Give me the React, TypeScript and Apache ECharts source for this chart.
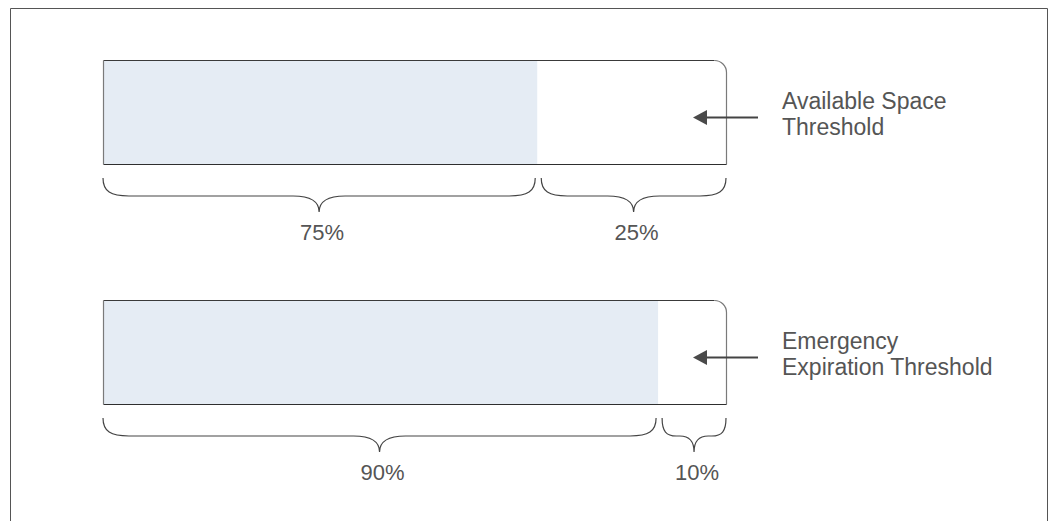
import React, { useEffect, useRef } from "react";
import * as echarts from "echarts";

// ---- data ----
const rowNames = ["Available Space Threshold", "Emergency Expiration Threshold"];
const usedValues = [69.7, 89.1]; // filled share of each bar (x scale 0..100)
const usedLabels = ["75%", "90%"];
const freeLabels = ["25%", "10%"];
const annotationLines = [
  ["Available Space", "Threshold"],
  ["Emergency", "Expiration Threshold"],
];

const FONT = "Liberation Sans, Arial, Helvetica, sans-serif";
const TEXT_COLOR = "#555555";
const FILL_COLOR = "#e5ecf4";

export default function App() {
  const ref = useRef<HTMLDivElement>(null);

  useEffect(() => {
    document.body.style.margin = "0";
    if (!ref.current) return;
    const chart = echarts.init(ref.current, null, { renderer: "svg" });

    const barData = rowNames.map((_, i) => [i, usedValues[i]]);
    const braceData: number[][] = [];
    rowNames.forEach((_, i) => {
      braceData.push([i, 0, usedValues[i], 0]);
      braceData.push([i, usedValues[i], 100, 1]);
    });
    const noteData = rowNames.map((_, i) => [i, 100]);

    const BAR_H = 104;

    const option: any = {
      animation: false,
      grid: { left: 103, right: 323, top: 112, bottom: 169 },
      xAxis: { type: "value", min: 0, max: 100, show: false },
      yAxis: { type: "value", min: 0, max: 1, inverse: true, show: false },
      graphic: [
        {
          type: "rect",
          shape: { x: 10.5, y: 8.5, width: 1037, height: 540 },
          style: { fill: "none", stroke: "#555", lineWidth: 1 },
          silent: true,
        },
      ],
      series: [
        {
          type: "custom",
          name: "bars",
          encode: { x: 1, y: 0 },
          data: barData,
          renderItem: (params: any, api: any) => {
            const row = api.value(0);
            const used = api.value(1);
            const p0 = api.coord([0, row]);
            const p1 = api.coord([100, row]);
            const pf = api.coord([used, row]);
            const x0 = Math.round(p0[0]) + 0.5;
            const x1 = Math.round(p1[0]) + 0.5;
            const yT = Math.round(p0[1] - BAR_H / 2) + 0.5;
            const yB = Math.round(p0[1] + BAR_H / 2) + 0.5;
            const r = 12;
            const k = 0.55 * r;
            return {
              type: "group",
              children: [
                {
                  type: "rect",
                  shape: { x: x0, y: yT, width: pf[0] - x0, height: yB - yT },
                  style: { fill: FILL_COLOR },
                },
                {
                  type: "path",
                  shape: { pathData: `M${x0} ${yT} L${x1 - r} ${yT}` },
                  style: { fill: "none", stroke: "#3a3a3a", lineWidth: 1.2 },
                },
                {
                  type: "path",
                  shape: {
                    pathData: `M${x1 - r} ${yT} C${x1 - r + k} ${yT} ${x1} ${yT + r - k} ${x1} ${yT + r} L${x1} ${yB}`,
                  },
                  style: { fill: "none", stroke: "#7a7a7a", lineWidth: 1.2 },
                },
                {
                  type: "path",
                  shape: { pathData: `M${x0} ${yB} L${x1} ${yB}` },
                  style: { fill: "none", stroke: "#2e2e2e", lineWidth: 1.2 },
                },
                {
                  type: "path",
                  shape: { pathData: `M${x0} ${yT} L${x0} ${yB}` },
                  style: { fill: "none", stroke: "#7a7a7a", lineWidth: 1.2 },
                },
              ],
            };
          },
        },
        {
          type: "custom",
          name: "braces",
          encode: { x: [1, 2], y: 0 },
          data: braceData,
          renderItem: (params: any, api: any) => {
            const row = api.value(0);
            const start = api.value(1);
            const end = api.value(2);
            const kind = api.value(3);
            const pa = api.coord([start, row]);
            const pb = api.coord([end, row]);
            let xa = pa[0];
            let xb = pb[0];
            if (start > 0) xa += 4;
            if (end < 100) xb -= 2;
            const y0 = pa[1] + 66;
            const m = 18;
            const h = 34;
            const xm = (xa + xb) / 2;
            const r = Math.min(26, (xb - xa) / 4.5);
            const ym = y0 + m;
            const yt = y0 + h;
            const d =
              `M${xa} ${y0} C${xa} ${y0 + m * 0.75} ${xa + r * 0.3} ${ym} ${xa + r} ${ym}` +
              ` L${xm - r} ${ym}` +
              ` C${xm - r * 0.35} ${ym} ${xm} ${ym + (h - m) * 0.3} ${xm} ${yt}` +
              ` C${xm} ${ym + (h - m) * 0.3} ${xm + r * 0.35} ${ym} ${xm + r} ${ym}` +
              ` L${xb - r} ${ym}` +
              ` C${xb - r * 0.3} ${ym} ${xb} ${y0 + m * 0.75} ${xb} ${y0}`;
            const label = kind === 0 ? usedLabels[row] : freeLabels[row];
            return {
              type: "group",
              children: [
                {
                  type: "path",
                  shape: { pathData: d },
                  style: { fill: "none", stroke: "#444", lineWidth: 1.2 },
                },
                {
                  type: "text",
                  style: {
                    text: label,
                    x: xm + 3,
                    y: yt + 20,
                    fill: TEXT_COLOR,
                    fontSize: 22,
                    fontFamily: FONT,
                    align: "center",
                    verticalAlign: "middle",
                    textAlign: "center",
                    textVerticalAlign: "middle",
                  },
                },
              ],
            };
          },
        },
        {
          type: "custom",
          name: "notes",
          encode: { x: 1, y: 0 },
          data: noteData,
          z: 3,
          renderItem: (params: any, api: any) => {
            const row = api.value(0);
            const p = api.coord([api.value(1), row]);
            const xe = p[0];
            const yc = p[1];
            const ya = yc + 5.5;
            const tip = xe - 33;
            const lines = annotationLines[row];
            return {
              type: "group",
              children: [
                {
                  type: "line",
                  shape: { x1: tip + 10, y1: ya, x2: xe + 32, y2: ya },
                  style: { stroke: "#444", lineWidth: 2 },
                },
                {
                  type: "polygon",
                  shape: {
                    points: [
                      [tip, ya],
                      [tip + 14, ya - 7.5],
                      [tip + 14, ya + 7.5],
                    ],
                  },
                  style: { fill: "#4a4a4a" },
                },
                {
                  type: "text",
                  style: {
                    text: lines[0],
                    x: xe + 56,
                    y: yc - 11,
                    fill: TEXT_COLOR,
                    fontSize: 23,
                    fontFamily: FONT,
                    align: "left",
                    verticalAlign: "middle",
                    textAlign: "left",
                    textVerticalAlign: "middle",
                  },
                },
                {
                  type: "text",
                  style: {
                    text: lines[1],
                    x: xe + 56,
                    y: yc + 15,
                    fill: TEXT_COLOR,
                    fontSize: 23,
                    fontFamily: FONT,
                    align: "left",
                    verticalAlign: "middle",
                    textAlign: "left",
                    textVerticalAlign: "middle",
                  },
                },
              ],
            };
          },
        },
      ],
    };

    chart.setOption(option);
    return () => {
      chart.dispose();
    };
  }, []);

  return <div ref={ref} style={{ width: 1049, height: 521 }} />;
}
